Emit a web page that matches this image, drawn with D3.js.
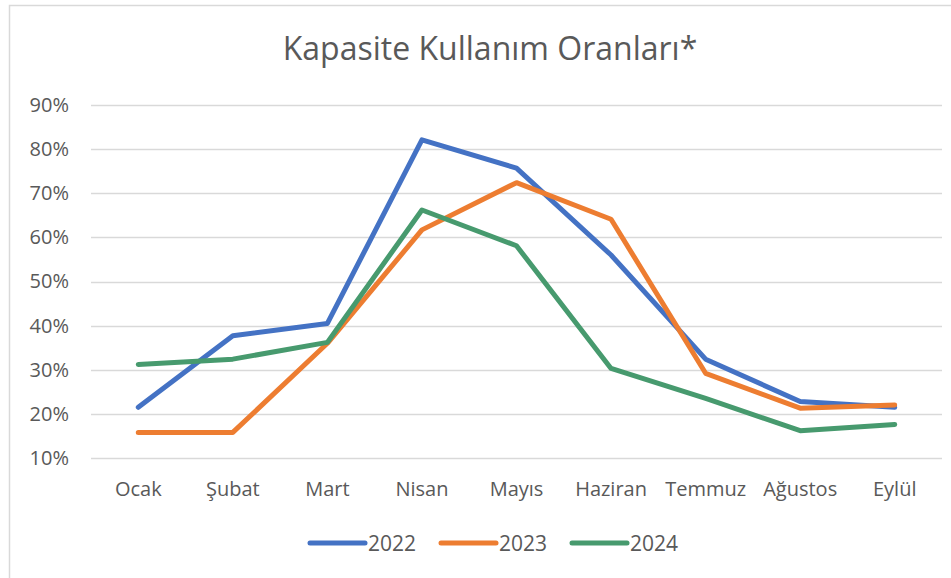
<!DOCTYPE html>
<html>
<head>
<meta charset="utf-8">
<script src="https://cdn.jsdelivr.net/npm/d3@7"></script>
<style>
  body { margin: 0; background: #fff; }
  text { font-family: "Open Sans", sans-serif; fill: #595959; }
</style>
</head>
<body>
<script>
// chart values
const months = ['Ocak', 'Şubat', 'Mart', 'Nisan', 'Mayıs', 'Haziran', 'Temmuz', 'Ağustos', 'Eylül'];
const years = ['2022', '2023', '2024'];
const values2022 = [21.5, 37.7, 40.5, 82.1, 75.7, 56.0, 32.4, 22.8, 21.5];
const values2023 = [15.8, 15.8, 36.0, 61.7, 72.4, 64.1, 29.2, 21.3, 22.0];
const values2024 = [31.2, 32.4, 36.2, 66.2, 58.1, 30.3, 23.5, 16.2, 17.6];
const yTicks = [10, 20, 30, 40, 50, 60, 70, 80, 90];
const colors = ['#4472C4', '#ED7D31', '#479A6E'];

const series = [values2022, values2023, values2024].map((v, i) => ({
    name: years[i],
    color: colors[i],
    points: v.map((d, j) => ({month: months[j], value: d}))
}));

const W = 951, H = 578;
const margin = {left: 91, right: 9, top: 105, bottom: 120};

const svg = d3.select('body').append('svg')
    .attr('width', W)
    .attr('height', H);

// chart frame
svg.append('rect')
    .attr('x', 9.5).attr('y', 5.5)
    .attr('width', W).attr('height', H)
    .attr('fill', 'none')
    .attr('stroke', '#d9d9d9')
    .attr('stroke-width', 1.5);

const x = d3.scaleBand()
    .domain(months)
    .range([margin.left, W - margin.right]);
const y = d3.scaleLinear()
    .domain([10, 90])
    .range([458, margin.top]);

// gridlines
svg.append('g')
    .selectAll('line')
    .data(yTicks)
    .join('line')
    .attr('x1', margin.left)
    .attr('x2', W - margin.right)
    .attr('y1', d => Math.round(y(d)) + 0.5)
    .attr('y2', d => Math.round(y(d)) + 0.5)
    .attr('stroke', '#d9d9d9')
    .attr('stroke-width', 1.5);

// y axis labels
const yAxis = d3.axisLeft(y)
    .tickValues(yTicks)
    .tickFormat(d => d + '%')
    .tickSize(0)
    .tickPadding(22);
svg.append('g')
    .attr('transform', 'translate(' + margin.left + ',0)')
    .call(yAxis)
    .call(g => g.select('.domain').remove())
    .selectAll('text')
    .style('font-size', '20px')
    .attr('fill', '#595959');

// x axis labels
const xAxis = d3.axisBottom(x).tickSize(0).tickPadding(13);
svg.append('g')
    .attr('transform', 'translate(0,469)')
    .call(xAxis)
    .call(g => g.select('.domain').remove())
    .selectAll('text')
    .style('font-size', '20px')
    .attr('fill', '#595959');

// lines
const line = d3.line()
    .x(d => x(d.month) + x.bandwidth() / 2)
    .y(d => y(d.value));

svg.append('g')
    .selectAll('path')
    .data(series)
    .join('path')
    .attr('d', d => line(d.points))
    .attr('fill', 'none')
    .attr('stroke', d => d.color)
    .attr('stroke-width', 5)
    .attr('stroke-linejoin', 'round')
    .attr('stroke-linecap', 'round');

// title
svg.append('text')
    .text('Kapasite Kullanım Oranları*')
    .attr('x', 490)
    .attr('y', 60)
    .attr('text-anchor', 'middle')
    .style('font-size', '32px');

// legend
const legend = svg.append('g')
    .selectAll('g')
    .data(series)
    .join('g')
    .attr('transform', (d, i) => 'translate(' + (310 + i * 131) + ',543)');
legend.append('line')
    .attr('x1', 0).attr('x2', 55)
    .attr('stroke', d => d.color)
    .attr('stroke-width', 5)
    .attr('stroke-linecap', 'round');
legend.append('text')
    .text(d => d.name)
    .attr('x', 58)
    .attr('y', 8)
    .style('font-size', '21px');
</script>
</body>
</html>
